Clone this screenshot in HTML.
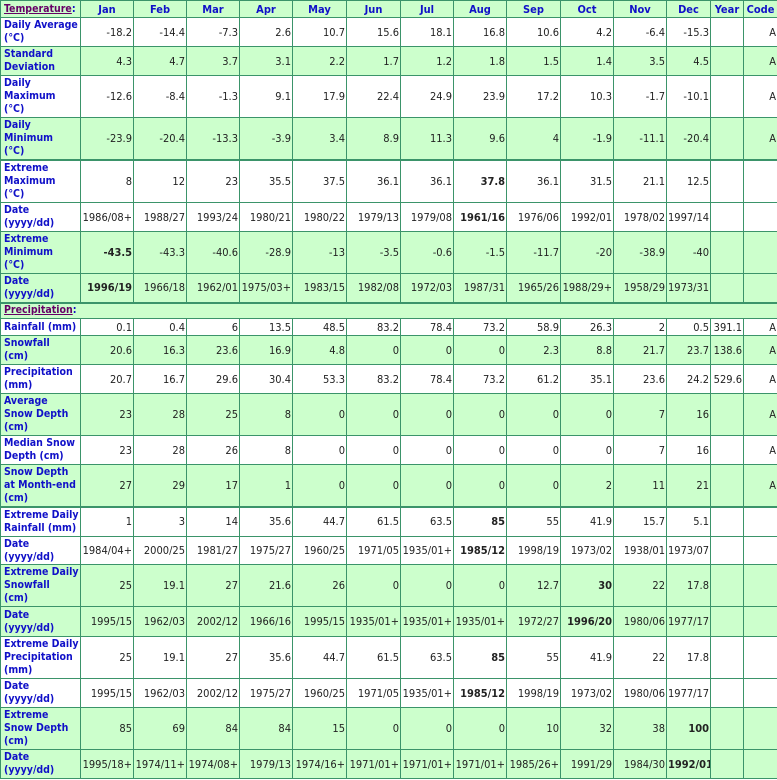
<!DOCTYPE html>
<html><head><meta charset="utf-8"><style>
body{margin:0;background:#fff}
table{border-collapse:collapse;table-layout:fixed;width:777px;font-family:"DejaVu Sans Condensed","DejaVu Sans","Liberation Sans",sans-serif;font-size:11px;line-height:13px;color:#222}
td,th{border:1px solid #3b946a;padding:0 1px;text-align:right;overflow:hidden;white-space:nowrap}
th{color:#1010c8;text-align:center;font-weight:bold}
td.l{text-align:left;color:#1010c8;font-weight:bold;padding-left:3px;font-size:10.5px}
tr.g td,tr.g th{background:#ccffcc}
tr.t td,tr.t th{border-top:2px solid #3b946a}
a{color:#660066;font-weight:bold;text-decoration:underline}
</style></head><body>
<table>
<colgroup><col style="width:80px"><col style="width:53px"><col style="width:53px"><col style="width:53px"><col style="width:53px"><col style="width:54px"><col style="width:54px"><col style="width:53px"><col style="width:53px"><col style="width:54px"><col style="width:53px"><col style="width:53px"><col style="width:44px"><col style="width:33px"><col style="width:34px"></colgroup>
<tr class="g" style="height:17px"><td class="l"><a>Temperature</a>:</td><th>Jan</th><th>Feb</th><th>Mar</th><th>Apr</th><th>May</th><th>Jun</th><th>Jul</th><th>Aug</th><th>Sep</th><th>Oct</th><th>Nov</th><th>Dec</th><th>Year</th><th>Code</th></tr>
<tr style="height:29px"><td class="l">Daily Average<br>(°C)</td><td>-18.2</td><td>-14.4</td><td>-7.3</td><td>2.6</td><td>10.7</td><td>15.6</td><td>18.1</td><td>16.8</td><td>10.6</td><td>4.2</td><td>-6.4</td><td>-15.3</td><td></td><td>A</td></tr>
<tr class="g" style="height:29px"><td class="l">Standard<br>Deviation</td><td>4.3</td><td>4.7</td><td>3.7</td><td>3.1</td><td>2.2</td><td>1.7</td><td>1.2</td><td>1.8</td><td>1.5</td><td>1.4</td><td>3.5</td><td>4.5</td><td></td><td>A</td></tr>
<tr style="height:42px"><td class="l">Daily<br>Maximum<br>(°C)</td><td>-12.6</td><td>-8.4</td><td>-1.3</td><td>9.1</td><td>17.9</td><td>22.4</td><td>24.9</td><td>23.9</td><td>17.2</td><td>10.3</td><td>-1.7</td><td>-10.1</td><td></td><td>A</td></tr>
<tr class="g" style="height:42px"><td class="l">Daily<br>Minimum<br>(°C)</td><td>-23.9</td><td>-20.4</td><td>-13.3</td><td>-3.9</td><td>3.4</td><td>8.9</td><td>11.3</td><td>9.6</td><td>4</td><td>-1.9</td><td>-11.1</td><td>-20.4</td><td></td><td>A</td></tr>
<tr class="t" style="height:43px"><td class="l">Extreme<br>Maximum<br>(°C)</td><td>8</td><td>12</td><td>23</td><td>35.5</td><td>37.5</td><td>36.1</td><td>36.1</td><td><b>37.8</b></td><td>36.1</td><td>31.5</td><td>21.1</td><td>12.5</td><td></td><td></td></tr>
<tr style="height:29px"><td class="l">Date<br>(yyyy/dd)</td><td>1986/08+</td><td>1988/27</td><td>1993/24</td><td>1980/21</td><td>1980/22</td><td>1979/13</td><td>1979/08</td><td><b>1961/16</b></td><td>1976/06</td><td>1992/01</td><td>1978/02</td><td>1997/14</td><td></td><td></td></tr>
<tr class="g" style="height:42px"><td class="l">Extreme<br>Minimum<br>(°C)</td><td><b>-43.5</b></td><td>-43.3</td><td>-40.6</td><td>-28.9</td><td>-13</td><td>-3.5</td><td>-0.6</td><td>-1.5</td><td>-11.7</td><td>-20</td><td>-38.9</td><td>-40</td><td></td><td></td></tr>
<tr class="g" style="height:29px"><td class="l">Date<br>(yyyy/dd)</td><td><b>1996/19</b></td><td>1966/18</td><td>1962/01</td><td>1975/03+</td><td>1983/15</td><td>1982/08</td><td>1972/03</td><td>1987/31</td><td>1965/26</td><td>1988/29+</td><td>1958/29</td><td>1973/31+</td><td></td><td></td></tr>
<tr class="g t" style="height:16px"><td class="l" colspan="15"><a>Precipitation</a>:</td></tr>
<tr style="height:17px"><td class="l">Rainfall (mm)</td><td>0.1</td><td>0.4</td><td>6</td><td>13.5</td><td>48.5</td><td>83.2</td><td>78.4</td><td>73.2</td><td>58.9</td><td>26.3</td><td>2</td><td>0.5</td><td>391.1</td><td>A</td></tr>
<tr class="g" style="height:29px"><td class="l">Snowfall<br>(cm)</td><td>20.6</td><td>16.3</td><td>23.6</td><td>16.9</td><td>4.8</td><td>0</td><td>0</td><td>0</td><td>2.3</td><td>8.8</td><td>21.7</td><td>23.7</td><td>138.6</td><td>A</td></tr>
<tr style="height:29px"><td class="l">Precipitation<br>(mm)</td><td>20.7</td><td>16.7</td><td>29.6</td><td>30.4</td><td>53.3</td><td>83.2</td><td>78.4</td><td>73.2</td><td>61.2</td><td>35.1</td><td>23.6</td><td>24.2</td><td>529.6</td><td>A</td></tr>
<tr class="g" style="height:42px"><td class="l">Average<br>Snow Depth<br>(cm)</td><td>23</td><td>28</td><td>25</td><td>8</td><td>0</td><td>0</td><td>0</td><td>0</td><td>0</td><td>0</td><td>7</td><td>16</td><td></td><td>A</td></tr>
<tr style="height:29px"><td class="l">Median Snow<br>Depth (cm)</td><td>23</td><td>28</td><td>26</td><td>8</td><td>0</td><td>0</td><td>0</td><td>0</td><td>0</td><td>0</td><td>7</td><td>16</td><td></td><td>A</td></tr>
<tr class="g" style="height:42px"><td class="l">Snow Depth<br>at Month-end<br>(cm)</td><td>27</td><td>29</td><td>17</td><td>1</td><td>0</td><td>0</td><td>0</td><td>0</td><td>0</td><td>2</td><td>11</td><td>21</td><td></td><td>A</td></tr>
<tr class="t" style="height:30px"><td class="l">Extreme Daily<br>Rainfall (mm)</td><td>1</td><td>3</td><td>14</td><td>35.6</td><td>44.7</td><td>61.5</td><td>63.5</td><td><b>85</b></td><td>55</td><td>41.9</td><td>15.7</td><td>5.1</td><td></td><td></td></tr>
<tr style="height:28px"><td class="l">Date<br>(yyyy/dd)</td><td>1984/04+</td><td>2000/25</td><td>1981/27</td><td>1975/27</td><td>1960/25</td><td>1971/05</td><td>1935/01+</td><td><b>1985/12</b></td><td>1998/19</td><td>1973/02</td><td>1938/01</td><td>1973/07</td><td></td><td></td></tr>
<tr class="g" style="height:42px"><td class="l">Extreme Daily<br>Snowfall<br>(cm)</td><td>25</td><td>19.1</td><td>27</td><td>21.6</td><td>26</td><td>0</td><td>0</td><td>0</td><td>12.7</td><td><b>30</b></td><td>22</td><td>17.8</td><td></td><td></td></tr>
<tr class="g" style="height:30px"><td class="l">Date<br>(yyyy/dd)</td><td>1995/15</td><td>1962/03</td><td>2002/12</td><td>1966/16</td><td>1995/15</td><td>1935/01+</td><td>1935/01+</td><td>1935/01+</td><td>1972/27</td><td><b>1996/20</b></td><td>1980/06</td><td>1977/17</td><td></td><td></td></tr>
<tr style="height:42px"><td class="l">Extreme Daily<br>Precipitation<br>(mm)</td><td>25</td><td>19.1</td><td>27</td><td>35.6</td><td>44.7</td><td>61.5</td><td>63.5</td><td><b>85</b></td><td>55</td><td>41.9</td><td>22</td><td>17.8</td><td></td><td></td></tr>
<tr style="height:29px"><td class="l">Date<br>(yyyy/dd)</td><td>1995/15</td><td>1962/03</td><td>2002/12</td><td>1975/27</td><td>1960/25</td><td>1971/05</td><td>1935/01+</td><td><b>1985/12</b></td><td>1998/19</td><td>1973/02</td><td>1980/06</td><td>1977/17</td><td></td><td></td></tr>
<tr class="g" style="height:42px"><td class="l">Extreme<br>Snow Depth<br>(cm)</td><td>85</td><td>69</td><td>84</td><td>84</td><td>15</td><td>0</td><td>0</td><td>0</td><td>10</td><td>32</td><td>38</td><td><b>100</b></td><td></td><td></td></tr>
<tr class="g" style="height:29px"><td class="l">Date<br>(yyyy/dd)</td><td>1995/18+</td><td>1974/11+</td><td>1974/08+</td><td>1979/13</td><td>1974/16+</td><td>1971/01+</td><td>1971/01+</td><td>1971/01+</td><td>1985/26+</td><td>1991/29</td><td>1984/30</td><td><b>1992/01</b></td><td></td><td></td></tr>
</table>
</body></html>
